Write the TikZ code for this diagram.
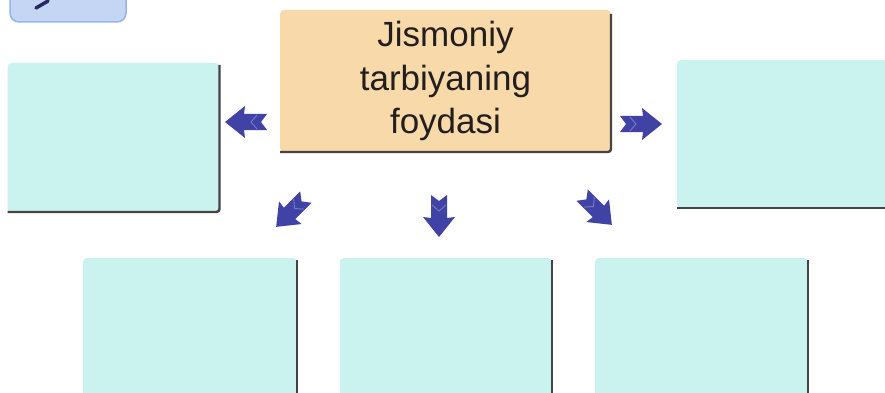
\documentclass[tikz,border=0pt]{standalone}
\usepackage{fontspec}
\setmainfont{Liberation Sans}
\begin{document}
\begin{tikzpicture}[x=1pt,y=-1pt,
  every node/.style={inner sep=0pt, outer sep=0pt},
  panel/.style={fill=panelcyan, rounded corners=4pt, minimum width=#1},
  title/.style={fill=titlepeach, rounded corners=4pt, font=\fontsize{35}{43.5}\selectfont,
    text=titleink, align=center},
  edge/.style={draw=edgegray, line width=2.4pt, rounded corners=3pt},
  fletch/.pic={
    \fill[arrowblue] (21,0) -- (1,16) -- (2,8) -- (-21,8) -- (-15,0) -- (-21,-8) -- (2,-8) -- (1,-16) -- cycle;
    \draw[arrowblue!70!white, line width=0.9pt] (-11,7) -- (-5,0) -- (-11,-7);
  }]
\definecolor{panelcyan}{RGB}{202,242,239}
\definecolor{titlepeach}{RGB}{248,218,170}
\definecolor{titleink}{RGB}{35,30,30}
\definecolor{edgegray}{RGB}{72,66,66}
\definecolor{arrowblue}{RGB}{64,66,166}
\definecolor{tabblue}{RGB}{196,214,244}
\definecolor{tabedge}{RGB}{150,180,232}

\useasboundingbox (0,0) rectangle (885,393);
\fill[white] (0,0) rectangle (885,393);

% corner tab with pencil stroke
\fill[tabblue, draw=tabedge, line width=1.5pt, rounded corners=9pt] (10,-12) rectangle (126,22);
\draw[arrowblue!60!black, line width=3.5pt, line cap=round] (36,8) -- (48,1);

% central title box
\node[title, minimum width=331pt, minimum height=142pt] (main) at (445.5,81)
  {Jismoniy\\tarbiyaning\\foydasi};
\draw[edge] (main.north east) ++(0,4) -- (main.south east) -- (main.south west);

% answer panels
\node[panel=212pt, minimum height=149pt] (left) at (113.5,137.5) {};
\draw[edge] (left.north east) ++(0,2) -- (left.south east) -- (left.south west);

\node[panel=230pt, minimum height=148pt] (right) at (792,134) {};
\draw[edge] (right.south east) -- (right.south west);

\node[panel=214pt, minimum height=150pt] (b1) at (190,333) {};
\node[panel=212pt, minimum height=150pt] (b2) at (446,333) {};
\node[panel=213pt, minimum height=150pt] (b3) at (701.5,333) {};
\foreach \b in {b1,b2,b3}
  \draw[edge] (\b.north east) ++(0,2) -- (\b.south east);

% pointers from the title to each panel
\pic[rotate=180] at (246,122) {fletch};
\pic[rotate=0]   at (641,124) {fletch};
\pic[rotate=225] at (291,212) {fletch};
\pic[rotate=270] at (439,216) {fletch};
\pic[rotate=315] at (597,210) {fletch};
\end{tikzpicture}
\end{document}
